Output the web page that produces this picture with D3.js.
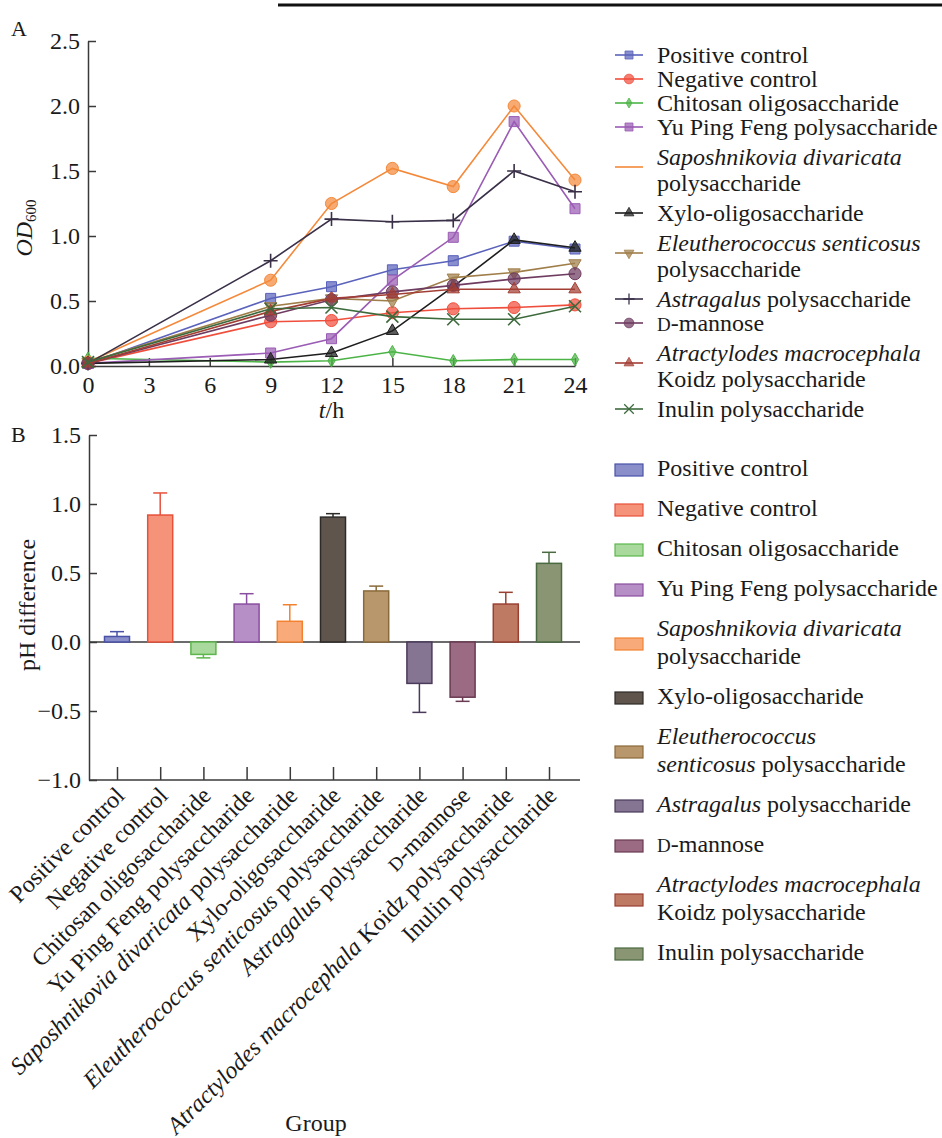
<!DOCTYPE html>
<html lang="en">
<head>
<meta charset="utf-8">
<title>OD600 growth curves and pH difference</title>
<style>
    body {
        margin: 0;
        background: #fff;
    }

    svg text {
        font-family: "Liberation Serif", "Times New Roman", serif;
        font-size: 24px;
        fill: #1a1a1a;
    }

    .axis path, .axis line {
        stroke: #3a3a3a;
        stroke-width: 1.5px;
    }
</style>
</head>
<body>
<div id="chart"></div>
<script src="https://cdn.jsdelivr.net/npm/d3@7"></script>
<script>
    // ---- data -------------------------------------------------------------
    const sampleHours = [0, 9, 12, 15, 18, 21, 24];
    const hourTicks = [0, 3, 6, 9, 12, 15, 18, 21, 24];
    const odTicks = [0, 0.5, 1.0, 1.5, 2.0, 2.5];
    const phTicks = [-1.0, -0.5, 0, 0.5, 1.0, 1.5];

    const groups = [
        "Positive control",
        "Negative control",
        "Chitosan oligosaccharide",
        "Yu Ping Feng polysaccharide",
        "Saposhnikovia divaricata polysaccharide",
        "Xylo-oligosaccharide",
        "Eleutherococcus senticosus polysaccharide",
        "Astragalus polysaccharide",
        "D-mannose",
        "Atractylodes macrocephala Koidz polysaccharide",
        "Inulin polysaccharide"
    ];
    const italicWords = ["Saposhnikovia", "divaricata", "Eleutherococcus", "senticosus",
        "Astragalus", "Atractylodes", "macrocephala"];

    // OD600 over time, one array per group
    const positiveOD = [0.02, 0.52, 0.61, 0.74, 0.81, 0.96, 0.90];
    const negativeOD = [0.02, 0.34, 0.35, 0.41, 0.44, 0.45, 0.47];
    const chitosanOD = [0.06, 0.03, 0.04, 0.11, 0.04, 0.05, 0.05];
    const yuPingFengOD = [0.02, 0.10, 0.21, 0.66, 0.99, 1.88, 1.21];
    const saposhnikoviaOD = [0.03, 0.66, 1.25, 1.52, 1.38, 2.00, 1.43];
    const xyloOD = [0.02, 0.05, 0.10, 0.27, 0.61, 0.97, 0.91];
    const eleutherococcusOD = [0.03, 0.46, 0.52, 0.50, 0.68, 0.72, 0.79];
    const astragalusOD = [0.02, 0.81, 1.13, 1.11, 1.12, 1.50, 1.34];
    const mannoseOD = [0.02, 0.39, 0.51, 0.57, 0.62, 0.67, 0.71];
    const atractylodesOD = [0.02, 0.42, 0.52, 0.55, 0.59, 0.59, 0.59];
    const inulinOD = [0.03, 0.44, 0.45, 0.38, 0.36, 0.36, 0.46];

    // pH difference (mean, one-sided error)
    const phDiff = [0.04, 0.92, -0.09, 0.275, 0.15, 0.905, 0.37, -0.30, -0.40, 0.275, 0.57];
    const phErr = [0.035, 0.16, 0.025, 0.075, 0.12, 0.025, 0.035, 0.21, 0.03, 0.085, 0.08];

    // legend line breaks
    const legendLinesA = [
        ["Positive control"], ["Negative control"], ["Chitosan oligosaccharide"],
        ["Yu Ping Feng polysaccharide"], ["Saposhnikovia divaricata", "polysaccharide"],
        ["Xylo-oligosaccharide"], ["Eleutherococcus senticosus", "polysaccharide"],
        ["Astragalus polysaccharide"], ["D-mannose"],
        ["Atractylodes macrocephala", "Koidz polysaccharide"], ["Inulin polysaccharide"]
    ];
    const legendLinesB = [
        ["Positive control"], ["Negative control"], ["Chitosan oligosaccharide"],
        ["Yu Ping Feng polysaccharide"], ["Saposhnikovia divaricata", "polysaccharide"],
        ["Xylo-oligosaccharide"], ["Eleutherococcus", "senticosus polysaccharide"],
        ["Astragalus polysaccharide"], ["D-mannose"],
        ["Atractylodes macrocephala", "Koidz polysaccharide"], ["Inulin polysaccharide"]
    ];

    // ---- styles -----------------------------------------------------------
    const lineColors = ["#5a62bb", "#f04e3c", "#4cb446", "#9a5cb4", "#f4893a", "#1e1e1e",
        "#a07e4a", "#3a3048", "#6e3c60", "#a33e34", "#3d6a3d"];
    const markerShapes = ["square", "circle", "diamond", "square", "circle", "triangle",
        "triangleDown", "plus", "circle", "triangle", "cross"];
    const barFill = ["#8a8fca", "#f4937a", "#a9d99c", "#b68fc6", "#f9aa7a", "#5f554d",
        "#b8976c", "#857592", "#9a6b82", "#bf7a64", "#8a9574"];
    const barStroke = ["#4a52a8", "#e8503a", "#5db64c", "#8a4ea0", "#f2822f", "#2e2a28",
        "#8a6a3a", "#4a3a5a", "#6a3a52", "#9a4032", "#4a6a40"];

    const odSeries = [positiveOD, negativeOD, chitosanOD, yuPingFengOD, saposhnikoviaOD, xyloOD,
        eleutherococcusOD, astragalusOD, mannoseOD, atractylodesOD, inulinOD];

    // ---- helpers ----------------------------------------------------------
    function richText(sel, str) {
        const words = str.split(" ");
        words.forEach(function (w, i) {
            const tail = i < words.length - 1 ? " " : "";
            if (w.startsWith("D-")) {
                sel.append("tspan").style("font-size", "19px").text("D");
                sel.append("tspan").text(w.slice(1) + tail);
            } else {
                sel.append("tspan")
                    .style("font-style", italicWords.includes(w) ? "italic" : "normal")
                    .text(w + tail);
            }
        });
    }

    function markerPath(shape) {
        if (shape === "plus") return "M-7,0H7M0,-7V7";
        if (shape === "cross") return "M-6,-6L6,6M-6,6L6,-6";
        const types = {
            square: [d3.symbolSquare, 100],
            circle: [d3.symbolCircle, 115],
            diamond: [d3.symbolDiamond, 45],
            triangle: [d3.symbolTriangle, 65],
            triangleDown: [d3.symbolTriangle, 65]
        };
        return d3.symbol(types[shape][0], types[shape][1])();
    }

    function drawMarker(g, shape, color) {
        const p = g.append("path").attr("d", markerPath(shape));
        if (shape === "plus" || shape === "cross") {
            p.attr("fill", "none").attr("stroke", color).attr("stroke-width", 1.6);
        } else {
            p.attr("fill", color).attr("fill-opacity", 0.72)
                .attr("stroke", color).attr("stroke-width", 1);
        }
        if (shape === "triangleDown") p.attr("transform", "rotate(180)");
        return p;
    }

    const width = 942;
    const height = 1138;
    const svg = d3.select("#chart").append("svg")
        .attr("width", width)
        .attr("height", height);

    // clipped page header rule
    svg.append("line")
        .attr("x1", 278).attr("x2", width)
        .attr("y1", 5).attr("y2", 5)
        .attr("stroke", "#111").attr("stroke-width", 3);

    // ---- panel A ----------------------------------------------------------
    const xA = d3.scaleLinear().domain([0, 24]).range([88, 575]);
    const yA = d3.scaleLinear().domain([0, 2.5]).range([366, 41]);

    svg.append("text").attr("x", 11).attr("y", 36).style("font-size", "22px").text("A");

    svg.append("g")
        .attr("class", "axis")
        .attr("transform", "translate(0," + yA(0) + ")")
        .call(d3.axisBottom(xA).tickValues(hourTicks).tickSizeInner(-8).tickSizeOuter(0).tickPadding(10))
        .call(g => g.selectAll("text").attr("font-size", null).attr("font-family", null));

    svg.append("g")
        .attr("class", "axis")
        .attr("transform", "translate(" + xA(0) + ",0)")
        .call(d3.axisLeft(yA).tickValues(odTicks).tickSizeInner(-8).tickSizeOuter(0).tickPadding(8)
            .tickFormat(d3.format(".1f")))
        .call(g => g.selectAll("text").attr("font-size", null).attr("font-family", null));

    const odLabel = svg.append("text")
        .attr("transform", "translate(32,228) rotate(-90)")
        .attr("text-anchor", "middle");
    odLabel.append("tspan").style("font-style", "italic").text("OD");
    odLabel.append("tspan").attr("dy", 4).style("font-size", "15px").text("600");

    const tLabel = svg.append("text")
        .attr("x", xA(12)).attr("y", 418)
        .attr("text-anchor", "middle");
    tLabel.append("tspan").style("font-style", "italic").text("t");
    tLabel.append("tspan").text("/h");

    const line = d3.line()
        .x((d, i) => xA(sampleHours[i]))
        .y(d => yA(d));

    odSeries.forEach(function (vals, k) {
        const g = svg.append("g");
        g.append("path")
            .datum(vals)
            .attr("d", line)
            .attr("fill", "none")
            .attr("stroke", lineColors[k])
            .attr("stroke-width", 1.6);
        vals.forEach(function (v, i) {
            const m = g.append("g")
                .attr("transform", "translate(" + xA(sampleHours[i]) + "," + yA(v) + ")");
            drawMarker(m, markerShapes[k], lineColors[k]);
        });
    });

    // legend A
    const legA = svg.append("g");
    let cursorA = 55;
    legendLinesA.forEach(function (lines, k) {
        const pad = lines.length > 1 ? 6 : 0;
        const y0 = cursorA + pad;
        const my = lines.length > 1 ? y0 + 10 : y0;
        legA.append("line")
            .attr("x1", 615).attr("x2", 643)
            .attr("y1", my).attr("y2", my)
            .attr("stroke", lineColors[k]).attr("stroke-width", 1.6);
        if (k !== 4) {
            const m = legA.append("g").attr("transform", "translate(629," + my + ") scale(0.8)");
            drawMarker(m, markerShapes[k], lineColors[k]);
        }
        lines.forEach(function (ln, j) {
            const t = legA.append("text")
                .attr("x", 657)
                .attr("y", y0 + j * 26)
                .attr("dy", "0.33em");
            richText(t, ln);
        });
        cursorA = y0 + (lines.length - 1) * 26 + 24 + pad;
    });

    // ---- panel B ----------------------------------------------------------
    const xB = d3.scalePoint().domain(groups).range([117, 549]);
    const yB = d3.scaleLinear().domain([-1.0, 1.5]).range([780, 435]);
    const barW = 25;

    svg.append("text").attr("x", 11).attr("y", 442).style("font-size", "22px").text("B");

    svg.append("g")
        .attr("class", "axis")
        .attr("transform", "translate(89,0)")
        .call(d3.axisLeft(yB).tickValues(phTicks).tickSizeInner(-8).tickSizeOuter(0).tickPadding(8)
            .tickFormat(d3.format(".1f")))
        .call(g => g.selectAll("text").attr("font-size", null).attr("font-family", null));

    const xAxisB = svg.append("g")
        .attr("class", "axis")
        .attr("transform", "translate(0," + yB(-1.0) + ")")
        .call(d3.axisBottom(xB).tickSizeInner(-13).tickSizeOuter(0).tickFormat(""));
    xAxisB.select(".domain").remove();
    xAxisB.append("line")
        .attr("x1", 89).attr("x2", 580)
        .attr("y1", 0).attr("y2", 0);

    // zero line
    svg.append("line")
        .attr("x1", 89).attr("x2", 580)
        .attr("y1", yB(0)).attr("y2", yB(0))
        .attr("stroke", "#3a3a3a").attr("stroke-width", 1.5);

    groups.forEach(function (g, i) {
        const v = phDiff[i];
        const x = xB(g);
        svg.append("rect")
            .attr("x", x - barW / 2)
            .attr("y", yB(Math.max(v, 0)))
            .attr("width", barW)
            .attr("height", Math.abs(yB(v) - yB(0)))
            .attr("fill", barFill[i])
            .attr("stroke", barStroke[i])
            .attr("stroke-width", 1.5);
        const end = v + Math.sign(v) * phErr[i];
        svg.append("line")
            .attr("x1", x).attr("x2", x)
            .attr("y1", yB(v)).attr("y2", yB(end))
            .attr("stroke", barStroke[i]).attr("stroke-width", 1.5);
        svg.append("line")
            .attr("x1", x - 7).attr("x2", x + 7)
            .attr("y1", yB(end)).attr("y2", yB(end))
            .attr("stroke", barStroke[i]).attr("stroke-width", 1.5);

        const t = svg.append("text")
            .attr("transform", "translate(" + (x + 9) + "," + 797 + ") rotate(-45)")
            .attr("text-anchor", "end");
        richText(t, g);
    });

    svg.append("text")
        .attr("transform", "translate(35,605) rotate(-90)")
        .attr("text-anchor", "middle")
        .text("pH difference");

    svg.append("text")
        .attr("x", 316).attr("y", 1131)
        .attr("text-anchor", "middle")
        .text("Group");

    // legend B
    const legB = svg.append("g");
    let cursorB = 468;
    legendLinesB.forEach(function (lines, k) {
        const ys = lines.map((ln, j) => cursorB + j * 28);
        legB.append("rect")
            .attr("x", 615).attr("y", d3.mean(ys) + 2 - 6)
            .attr("width", 28).attr("height", 12)
            .attr("fill", barFill[k])
            .attr("stroke", barStroke[k]).attr("stroke-width", 1.2);
        lines.forEach(function (ln, j) {
            const t = legB.append("text")
                .attr("x", 657)
                .attr("y", ys[j])
                .attr("dy", "0.33em");
            richText(t, ln);
        });
        cursorB = ys[ys.length - 1] + 40;
    });
</script>
</body>
</html>
